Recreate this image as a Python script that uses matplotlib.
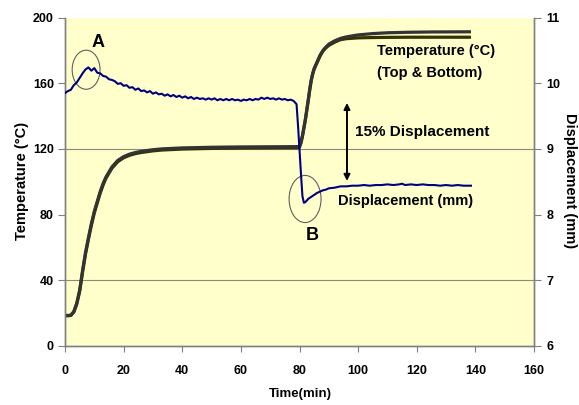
import matplotlib
matplotlib.use("Agg")
import matplotlib.pyplot as plt
from matplotlib.patches import Ellipse

plt.rcParams['font.family'] = ['Liberation Sans', 'DejaVu Sans']
plt.rcParams['font.weight'] = 'bold'

# ---- data ----
temp_time = [0, 1, 2, 3, 4, 5, 5.5, 6, 7, 8, 9, 10, 11, 12, 13, 14, 15, 16, 18, 20, 22, 24,
             26, 28, 30, 33, 40, 50, 60, 70, 79.5, 80, 80.5, 81, 81.5, 82, 82.5, 83, 83.5,
             84, 84.5, 85, 86, 87, 88, 89, 90, 92, 94, 96, 100, 105, 110, 117, 125, 138.5]
temp_top = [18.6, 18.6, 18.8, 21, 26, 34, 40, 46, 57, 66, 74.5, 82, 88, 94, 99, 103, 106,
            109, 113, 115.3, 116.8, 117.8, 118.5, 119, 119.5, 120, 120.6, 121, 121.2, 121.3,
            121.4, 121.6, 124, 128, 133, 138, 144, 150, 156.5, 162, 166, 169, 173, 177, 180,
            182, 183.8, 185.8, 187.3, 188.2, 189.4, 190.2, 190.7, 191.0, 191.2, 191.3]
temp_bottom = [18.4, 18.4, 18.6, 20.6, 25.4, 33.2, 39, 45, 56, 65, 73.5, 81, 87, 93, 98,
               102.2, 105.2, 108.2, 112.2, 114.6, 116.1, 117.1, 117.8, 118.3, 118.8, 119.3,
               119.9, 120.3, 120.5, 120.6, 120.7, 121.1, 123.6, 127.6, 132.6, 137.6, 143.6,
               149.6, 156, 161.5, 165.5, 168.5, 172.5, 176.5, 179.5, 181.5, 183, 185, 186.5,
               187.1, 187.6, 187.8, 187.9, 188.0, 188.0, 188.0]

disp_time = list(range(0, 80)) + [79.5, 80, 80.5, 81, 81.5, 82, 83, 84, 85, 86, 87, 88, 89, 90,
                                  92, 94, 96, 98, 100, 102, 104, 106, 108, 110, 112, 114, 115,
                                  116, 118, 120, 122, 124, 126, 128, 130, 132, 134, 136, 138.5]
disp_mm = [9.85, 9.88, 9.90, 9.97, 10.01, 10.08, 10.15, 10.21, 10.24, 10.19, 10.23, 10.16,
           10.15, 10.11, 10.10, 10.06, 10.05, 10.03, 9.99, 10.00, 9.96, 9.97, 9.93, 9.94,
           9.90, 9.92, 9.88, 9.89, 9.86, 9.88, 9.84, 9.86, 9.83, 9.84, 9.81, 9.83, 9.80,
           9.82, 9.79, 9.81, 9.78, 9.80, 9.77, 9.79, 9.76, 9.78, 9.76, 9.77, 9.75, 9.77,
           9.75, 9.77, 9.74, 9.76, 9.74, 9.76, 9.74, 9.76, 9.74, 9.75, 9.73, 9.75, 9.74,
           9.76, 9.74, 9.76, 9.75, 9.78, 9.76, 9.78, 9.76, 9.77, 9.75, 9.77, 9.75, 9.76,
           9.74, 9.75, 9.73, 9.68,
           9.35, 8.99, 8.62, 8.28, 8.18, 8.19, 8.24, 8.27, 8.30, 8.33, 8.35, 8.37, 8.38, 8.40,
           8.41, 8.43, 8.43, 8.44, 8.44, 8.45, 8.44, 8.45, 8.45, 8.46, 8.45, 8.46, 8.47,
           8.45, 8.46, 8.45, 8.46, 8.45, 8.45, 8.44, 8.45, 8.44, 8.45, 8.44, 8.44]

x_ticks = [0, 20, 40, 60, 80, 100, 120, 140, 160]
temp_ticks = [0, 40, 80, 120, 160, 200]
disp_ticks = [6, 7, 8, 9, 10, 11]

# ---- figure ----
fig = plt.figure(figsize=(5.79, 4.05), dpi=100)
ax = fig.add_axes([65 / 579, 1 - 346 / 405, 469 / 579, 328.5 / 405])
ax.set_facecolor('#FFFFCC')
ax2 = ax.twinx()

axis_grey = '#808080'
for a in (ax, ax2):
    a.spines['top'].set_visible(False)
    for s in ('left', 'right', 'bottom'):
        a.spines[s].set_color(axis_grey)
        a.spines[s].set_linewidth(1.0)

ax.plot(temp_time, temp_bottom, color='#333300', lw=2.3, solid_capstyle='butt', zorder=3)
ax.plot(temp_time, temp_top, color='#333333', lw=2.3, solid_capstyle='butt', zorder=4)
ax2.plot(disp_time, disp_mm, color='#000080', lw=1.5, zorder=5)

ax.set_xlim(0, 160)
ax.set_ylim(0, 200)
ax2.set_ylim(6, 11)
ax.set_xticks(x_ticks)
ax.set_yticks(temp_ticks)
ax2.set_yticks(disp_ticks)

ax.yaxis.grid(True, color='#8a8a78', lw=0.8)
ax.set_axisbelow(True)
for i, gl in enumerate(ax.get_ygridlines()):
    gl.set_visible(i in (1, 3))

ax.tick_params(axis='x', direction='out', length=4, color=axis_grey, pad=10, labelsize=9)
ax.tick_params(axis='y', direction='out', length=5, color=axis_grey, pad=3, labelsize=9)
ax2.tick_params(axis='y', direction='out', length=5, color=axis_grey, pad=4, labelsize=9)
for lab in ax.get_xticklabels() + ax.get_yticklabels() + ax2.get_yticklabels():
    lab.set_fontweight('bold')

# axis titles
fig.text(22 / 579, 1 - 181 / 405, 'Temperature (°C)', rotation=90, ha='center', va='center',
         fontsize=10.5, fontweight='bold')
fig.text(570 / 579, 1 - 181 / 405, 'Displacement (mm)', rotation=270, ha='center', va='center',
         fontsize=10.5, fontweight='bold')
fig.text(300 / 579, 1 - 394 / 405, 'Time(min)', ha='center', va='center',
         fontsize=9.5, fontweight='bold')

# annotations
ax.text(11.3, 185, 'A', fontsize=13, fontweight='bold', ha='center', va='center')
ax.text(84.3, 67.5, 'B', fontsize=13, fontweight='bold', ha='center', va='center')
ax.add_patch(Ellipse((7.2, 168.2), 9.5, 23.8, fill=False, ec='#606060', lw=0.8, zorder=6))
ax.add_patch(Ellipse((81.9, 89.5), 10.9, 28.7, fill=False, ec='#606060', lw=0.8, zorder=6))
ax.text(106.5, 179.8, 'Temperature (°C)', fontsize=10.5, fontweight='bold',
        ha='left', va='center')
ax.text(106.5, 166.3, '(Top & Bottom)', fontsize=10.5, fontweight='bold',
        ha='left', va='center')
ax.text(99.0, 130.5, '15% Displacement', fontsize=11, fontweight='bold', ha='left', va='center')
ax.text(93.0, 88.5, 'Displacement (mm)', fontsize=10.5, fontweight='bold', ha='left', va='center')
ax.annotate('', xy=(96.2, 100.5), xytext=(96.2, 148.0),
            arrowprops=dict(arrowstyle='<|-|>', color='black', lw=1.4, mutation_scale=9,
                            shrinkA=0, shrinkB=0), zorder=7)

fig.savefig('out.png', dpi=100)
